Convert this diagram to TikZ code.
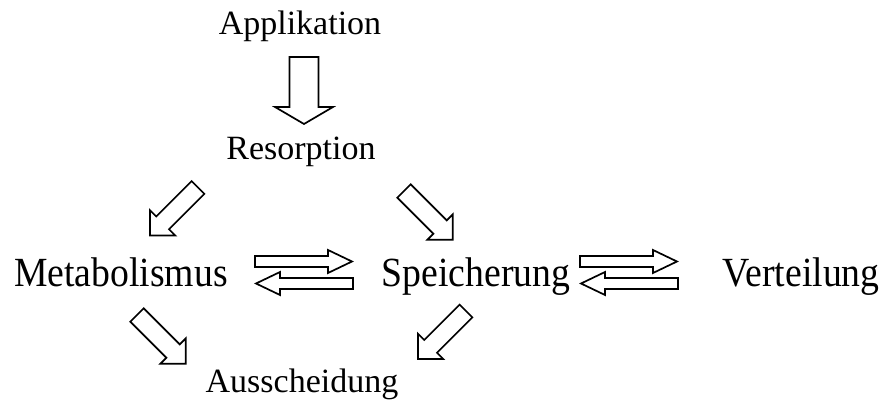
\documentclass[tikz,border=0pt]{standalone}
\usepackage{fontspec}
\setmainfont{Liberation Serif}
\tikzset{
  lbl/.style={anchor=base, inner sep=0pt, font=\fontsize{34}{40}\selectfont},
  midlbl/.style={anchor=base, inner sep=0pt, font=\fontsize{37.7}{44}\selectfont, yscale=1.1, transform shape},
  arrowline/.style={draw=black, fill=white, line width=1.7pt, line join=miter},
  pics/blk/.style args={#1/#2/#3/#4}{code={
    \draw[arrowline] (0,-#2) -- ({#1-#3},-#2) -- ({#1-#3},-#4) -- (#1,0)
      -- ({#1-#3},#4) -- ({#1-#3},#2) -- (0,#2) -- cycle;
  }}
}
\begin{document}
\begin{tikzpicture}[x=1pt,y=1pt]
\useasboundingbox (0,0) rectangle (891,409);
% labels
\node[lbl] (app) at (300,374) {Applikation};
\node[lbl] (res) at (301,249) {Resorption};
\node[midlbl] (met) at (121,122) {Metabolismus};
\node[midlbl] (spe) at (476,122) {Speicherung};
\node[midlbl] (ver) at (801,122) {Verteilung};
\node[lbl] (aus) at (302,16) {Ausscheidung};
% block arrows
\pic[rotate=-90] at (304,352) {blk={67/14.5/17/29}};
\pic[rotate=225] at (198,221.5) {blk={68/9/18/18}};
\pic[rotate=-45] at (404,218) {blk={69/9.5/18/18}};
\pic[rotate=-45] at (137,94) {blk={69/9.5/18/18}};
\pic[rotate=225] at (466,98) {blk={68/9/18/18}};
\pic at (255,147.5) {blk={97/5.5/24/11.5}};
\pic[rotate=180] at (353,125.5) {blk={97/5.5/24/11.5}};
\pic at (580,147.5) {blk={97/5.5/24/11.5}};
\pic[rotate=180] at (678,125.5) {blk={97/5.5/24/11.5}};
\end{tikzpicture}
\end{document}
